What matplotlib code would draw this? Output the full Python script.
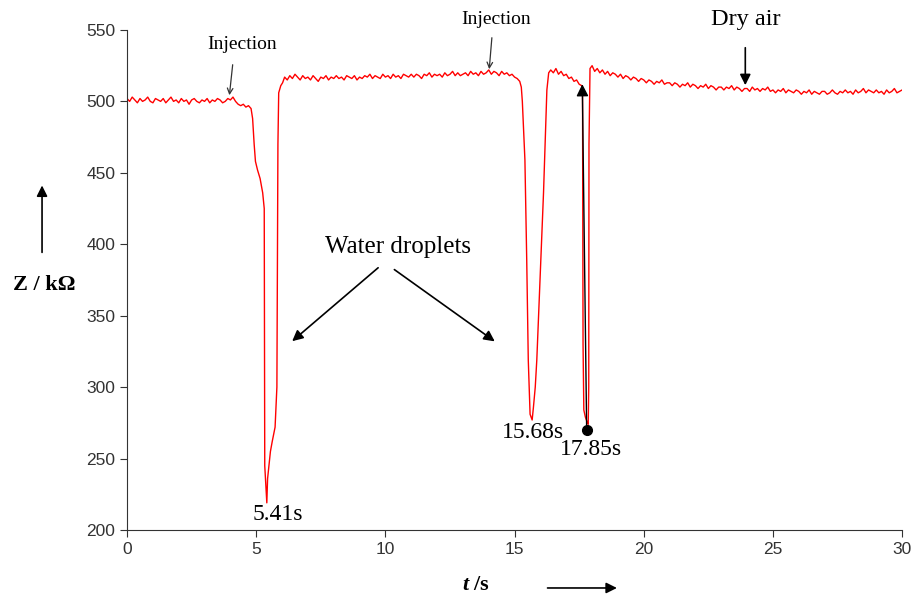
import numpy as np
import matplotlib.pyplot as plt
from matplotlib.patches import FancyArrowPatch

plt.rcParams['mathtext.fontset'] = 'custom'
plt.rcParams['mathtext.bfit'] = 'Liberation Serif:italic:bold'
plt.rcParams['mathtext.rm'] = 'Liberation Serif'

# baseline before first injection, t = 0.0 .. 4.8 s
base_a = [502, 500, 503, 501, 499, 502, 500, 501, 503, 500,
          499, 502, 501, 500, 502, 499, 501, 503, 500, 501,
          499, 502, 500, 501, 498, 501, 502, 500, 499, 501,
          500, 502, 499, 501, 500, 502, 501, 499, 500, 502,
          501, 503, 500, 498, 497, 498, 496, 497, 495]
dip1_t = [4.86, 4.92, 4.97, 5.05, 5.15, 5.25, 5.31, 5.33, 5.37, 5.41,
          5.44, 5.47, 5.55, 5.62, 5.73, 5.80, 5.84, 5.87, 5.95, 6.02]
dip1_z = [488, 470, 458, 452, 446, 436, 425, 245, 232, 219,
          236, 241, 255, 262, 272, 300, 470, 506, 511, 513]
# t = 6.1 .. 15.2 s
base_b = [517, 515, 518, 516, 519, 517, 515, 518, 516, 517,
          515, 518, 516, 514, 517, 516, 518, 515, 517, 516,
          518, 516, 517, 515, 518, 517, 516, 518, 515, 517,
          516, 518, 517, 519, 516, 518, 517, 516, 519, 517,
          518, 516, 519, 517, 518, 516, 519, 518, 517, 519,
          517, 519, 518, 516, 519, 518, 520, 517, 519, 518,
          519, 517, 520, 518, 519, 521, 518, 520, 518, 519,
          520, 518, 521, 519, 520, 518, 521, 519, 520, 522,
          519, 521, 520, 518, 521, 519, 520, 518, 519, 517,
          516, 514]
dip2_t = [15.26, 15.30, 15.35, 15.40, 15.47, 15.53, 15.60, 15.68,
          15.73, 15.80, 15.86, 15.99, 16.12, 16.20, 16.25, 16.32]
dip2_z = [510, 500, 480, 459, 389, 319, 281, 277,
          286, 300, 319, 377, 436, 480, 508, 520]
# t = 16.4 .. 17.6 s
base_d = [522, 520, 523, 519, 521, 518, 519, 516, 517, 514, 515, 512, 511]
dip3_t = [17.63, 17.65, 17.68, 17.74, 17.80, 17.85, 17.87, 17.88, 17.92]
dip3_z = [509, 330, 284, 279, 276, 274, 300, 470, 523]
# t = 18.0 .. 30.0 s
base_e = [525, 521, 523, 520, 522, 519, 521, 518, 520, 519,
          517, 519, 516, 518, 517, 515, 517, 516, 514, 516,
          515, 513, 515, 514, 512, 514, 513, 515, 512, 513,
          513, 511, 513, 512, 510, 512, 511, 513, 510, 512,
          511, 509, 511, 510, 512, 509, 511, 510, 508, 510,
          510, 508, 510, 509, 511, 508, 510, 509, 507, 509,
          509, 507, 510, 508, 509, 507, 509, 508, 510, 507,
          508, 506, 508, 507, 509, 506, 508, 507, 506, 508,
          507, 505, 507, 506, 508, 505, 507, 506, 505, 507,
          507, 505, 506, 508, 506, 505, 507, 506, 508, 506,
          507, 505, 508, 506, 507, 509, 506, 508, 507, 506,
          508, 506, 507, 505, 508, 506, 507, 509, 506, 507,
          508]

t = np.concatenate([np.linspace(0.0, 4.8, len(base_a)), dip1_t,
                    np.linspace(6.1, 15.2, len(base_b)), dip2_t,
                    np.linspace(16.4, 17.6, len(base_d)), dip3_t,
                    np.linspace(18.0, 30.0, len(base_e))])
z = np.concatenate([base_a, dip1_z, base_b, dip2_z, base_d, dip3_z, base_e])

serif = 'Liberation Serif'
fig = plt.figure(figsize=(9.14, 5.99), dpi=100)
ax = fig.add_axes([0.139, 0.1152, 0.848, 0.8348])
ax.plot(t, z, color='#ff0000', lw=1.0)

ax.set_xlim(0, 30)
ax.set_ylim(200, 550)
ax.set_xticks(range(0, 31, 5))
ax.set_yticks(range(200, 551, 50))
for s in ['top', 'right']:
    ax.spines[s].set_visible(False)
for s in ['left', 'bottom']:
    ax.spines[s].set_color('#333333')
ax.tick_params(direction='out', length=5, color='#333333', labelsize=12.5,
               labelcolor='#333333')
for lab in ax.get_xticklabels() + ax.get_yticklabels():
    lab.set_family('Liberation Sans')

thin = dict(arrowstyle='->', color='#333333', lw=0.9)
bold = dict(arrowstyle='-|>', color='black', lw=1.2, mutation_scale=16)

ax.annotate('', xy=(3.95, 502.4), xytext=(4.1, 527.6), arrowprops=thin)
ax.text(4.45, 539.5, 'Injection', ha='center', va='center', fontsize=14, family=serif)
ax.annotate('', xy=(14.01, 520.6), xytext=(14.13, 546.5), arrowprops=thin,
            annotation_clip=False)
ax.text(14.29, 557, 'Injection', ha='center', va='center', fontsize=14,
        family=serif, clip_on=False)
ax.annotate('', xy=(23.93, 509.4), xytext=(23.93, 539.5), arrowprops=bold,
            annotation_clip=False)
ax.text(23.93, 557.5, 'Dry air', ha='center', va='center', fontsize=17.5,
        family=serif, clip_on=False)

ax.text(10.5, 398, 'Water droplets', ha='center', va='center', fontsize=18, family=serif)
ax.annotate('', xy=(6.31, 330.9), xytext=(9.8, 384.8), arrowprops=bold)
ax.annotate('', xy=(14.32, 330.9), xytext=(10.26, 383.4), arrowprops=bold)

ax.text(5.83, 210.5, '5.41s', ha='center', va='center', fontsize=17, family=serif)
ax.text(15.72, 268.5, '15.68s', ha='center', va='center', fontsize=17, family=serif)
ax.text(17.96, 256, '17.85s', ha='center', va='center', fontsize=17, family=serif)
ax.plot([17.79], [270], 'o', color='black', ms=7)
ax.annotate('', xy=(17.62, 514), xytext=(17.79, 270),
            arrowprops=dict(arrowstyle='-|>', color='black', lw=1.0, mutation_scale=18))

# axis labels with direction arrows
fig.text(0.048, 0.524, 'Z / k\u03a9', ha='center', va='center',
         fontsize=16, fontweight='bold', family=serif)
fig.patches.append(FancyArrowPatch(
    (0.046, 0.574), (0.046, 0.695), transform=fig.transFigure, arrowstyle='-|>',
    mutation_scale=16, color='black', lw=1.2))
fig.text(0.521, 0.0234, r'$\mathbfit{t}$ /s', ha='center', va='center',
         fontsize=16, fontweight='bold', family=serif)
fig.patches.append(FancyArrowPatch(
    (0.596, 0.0184), (0.678, 0.0184), transform=fig.transFigure, arrowstyle='-|>',
    mutation_scale=16, color='black', lw=1.2))

fig.savefig('out.png', dpi=100)
